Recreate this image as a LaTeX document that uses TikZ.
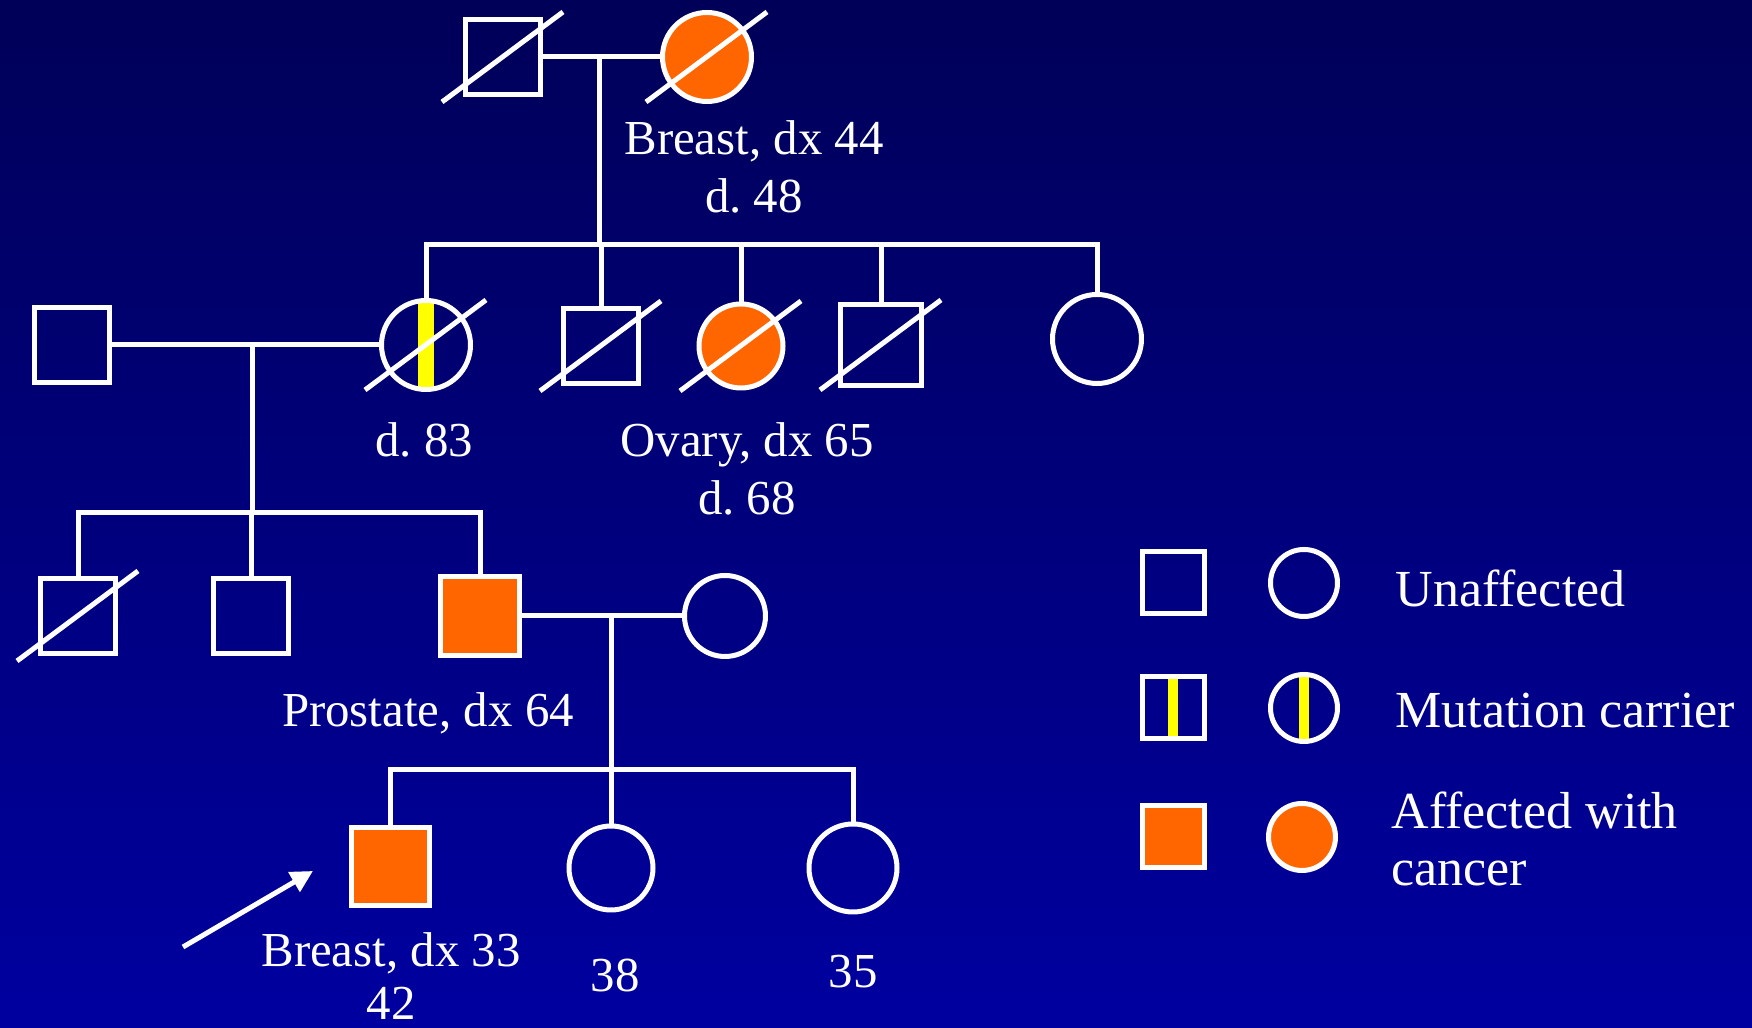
\documentclass[tikz,border=0pt]{standalone}
\usepackage{fontspec}
\setmainfont{Liberation Serif}
\usetikzlibrary{arrows.meta}

\definecolor{bgtop}{RGB}{0,0,88}
\definecolor{bgbot}{RGB}{0,0,160}
\definecolor{cancer}{RGB}{255,102,0}
\definecolor{mutation}{RGB}{255,255,0}

\frenchspacing

\begin{document}
\begin{tikzpicture}[x=0.1mm,y=-0.1mm,line width=0.5mm,white,line cap=rect,
	male/.style={draw,rectangle,inner sep=0,minimum size=7.5mm},
	female/.style={draw,circle,inner sep=0,minimum size=8.9mm},
	affected/.style={fill=cancer},
	carrier/.style={path picture={\fill[mutation] ([xshift=-#1]path picture bounding box.north) rectangle ([xshift=#1]path picture bounding box.south);}},
	carrier/.default=0.8mm,
	lbl/.style={inner sep=0,anchor=north,align=center,font=\fontsize{13.9pt}{16.5pt}\selectfont},
	key/.style={inner sep=0,anchor=north west,align=left,font=\fontsize{14.8pt}{16.2pt}\selectfont}]
	\useasboundingbox (0,0) rectangle (1752,1028);
	\shade[top color=bgtop,bottom color=bgbot] (0,0) rectangle (1752,1028);

	% generation I
	\node[male] (gf) at (503,57) {};
	\node[female,affected] (gm) at (707,57) {};
	\coordinate (m1) at (599,57);
	\coordinate (s1) at (599,245);
	\draw (gf) -- (gm);
	\draw (m1) -- (s1);
	\node[lbl] (l1) at (754,118) {Breast, dx 44\\d. 48};

	% generation II
	\node[male] (h2) at (72,345) {};
	\node[female,carrier] (c1) at (426,345) {};
	\node[male] (c2) at (601,346) {};
	\node[female,affected,minimum size=8.4mm] (c3) at (741,346) {};
	\node[male,minimum size=8.1mm] (c4) at (881,345) {};
	\node[female] (c5) at (1097,339) {};
	\draw (c1.north |- s1) -- (c5.north |- s1);
	\foreach \n in {c1,c2,c3,c4,c5}
		\draw (\n.north |- s1) -- (\n.north);
	\draw (h2) -- (c1);
	\coordinate (m2) at (252,345);
	\coordinate (s2) at (252,513);
	\draw (m2) -- (s2);
	\node[lbl] (l2) at (424,420) {d. 83};
	\node[lbl] (l3) at (747,420) {Ovary, dx 65\\d. 68};

	% generation III
	\node[male] (d1) at (78,616) {};
	\node[male] (d2) at (251,616) {};
	\node[male,affected,minimum size=7.9mm] (d3) at (480,616) {};
	\node[female,minimum size=8.1mm] (w3) at (725,616) {};
	\draw (d1.north |- s2) -- (d3.north |- s2);
	\foreach \n in {d1,d2,d3}
		\draw (\n.north |- s2) -- (\n.north);
	\draw (d3) -- (w3);
	\coordinate (m3) at (611,616);
	\coordinate (s3) at (611,770);
	\draw (m3) -- (s3);
	\node[lbl] (l4) at (428,690) {Prostate, dx 64};

	% generation IV
	\node[male,affected,minimum size=7.8mm] (p) at (390,867) {};
	\node[female,minimum size=8.4mm] (g1) at (611,868) {};
	\node[female,minimum size=8.8mm] (g2) at (853,868) {};
	\draw (p.north |- s3) -- (g2.north |- s3);
	\foreach \n in {p,g1,g2}
		\draw (\n.north |- s3) -- (\n.north);
	\coordinate (ptail) at (183,947);
	\coordinate (phead) at (313,871);
	\draw[line cap=butt,-{Triangle[length=2.2mm,width=2.2mm]}] (ptail) -- (phead);
	\node[lbl,font=\fontsize{13.9pt}{15pt}\selectfont] (l5) at (391,930) {Breast, dx 33\\42};
	\node[lbl] (l6) at (615,957) {38};
	\node[lbl] (l7) at (853,953) {35};

	% deceased
	\foreach \n in {gf,gm,c1,c2,c3,c4,d1}
		\draw[line cap=butt] (\n.center) ++(-61,45) -- ++(121,-90);

	% legend
	\node[male,minimum size=6.2mm] (k1) at (1173,583) {};
	\node[female,minimum size=6.7mm] (k2) at (1304,583) {};
	\node[male,carrier=0.5mm,minimum size=6.2mm] (k3) at (1173,708) {};
	\node[female,carrier=0.5mm,minimum size=6.7mm] (k4) at (1304,708) {};
	\node[male,affected,minimum size=6.2mm] (k5) at (1173,837) {};
	\node[female,affected,minimum size=6.7mm] (k6) at (1302,837) {};
	\node[key] (t1) at (1393,567) {Unaffected};
	\node[key] (t2) at (1393,691) {Mutation carrier};
	\node[key] (t3) at (1389,789) {Affected with\\cancer};
\end{tikzpicture}
\end{document}
